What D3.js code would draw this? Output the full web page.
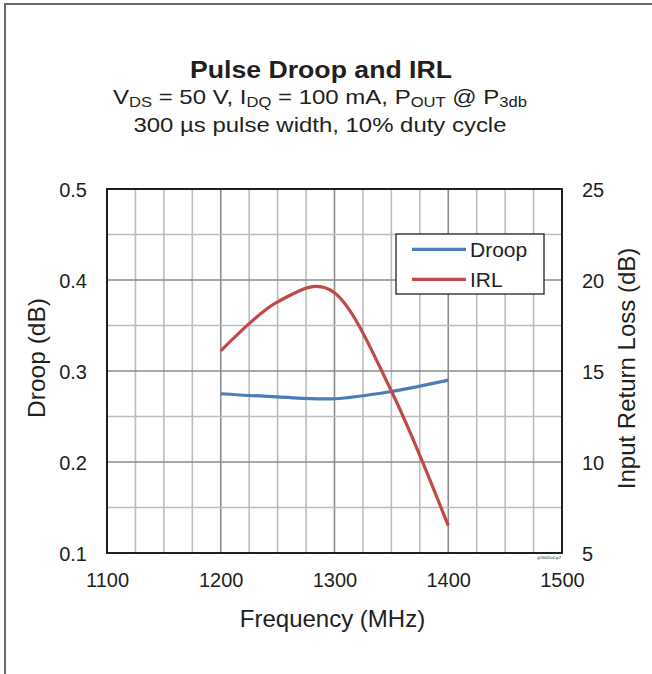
<!DOCTYPE html>
<html><head><meta charset="utf-8">
<script src="https://cdn.jsdelivr.net/npm/d3@7"></script>
<style>body{margin:0;background:#fff}svg text{font-family:"Liberation Sans",Arial,sans-serif;fill:#231f20}</style>
</head><body>
<svg id="c" width="652" height="674"></svg>
<script>
const freq = [1200, 1250, 1300, 1350, 1400];
const droop = [0.275, 0.2715, 0.2695, 0.2775, 0.290];
const irl = [16.1, 18.8, 19.3, 13.9, 6.5];
const xTicks = [1100, 1200, 1300, 1400, 1500];
const yLeftTicks = [0.1, 0.2, 0.3, 0.4, 0.5];
const yRightTicks = [5, 10, 15, 20, 25];
const seriesNames = ["Droop", "IRL"];
const colors = ["#4a7ebb", "#be4b48"];

const FF = '"Liberation Sans",Arial,sans-serif';
const svg = d3.select("#c");
const L = 107, R = 562, T = 189, B = 553;
const x = d3.scaleLinear().domain([1100, 1500]).range([L, R]);
const yL = d3.scaleLinear().domain([0.1, 0.5]).range([B, T]);
const yR = d3.scaleLinear().domain([5, 25]).range([B, T]);

// outer frame
svg.append("path").attr("d", `M5,674 L5,4 L652,4`).attr("fill", "none").attr("stroke", "#6a6a6a").attr("stroke-width", 2);

// grid
const g = svg.append("g");
d3.range(1100, 1501, 25).forEach(v => {
  const major = v % 100 === 0;
  g.append("line").attr("x1", x(v)).attr("x2", x(v)).attr("y1", T).attr("y2", B)
    .attr("stroke", major ? "#8c8c8c" : "#bdbdbd").attr("stroke-width", 1.6);
});
d3.range(0.1, 0.5001, 0.05).forEach(v => {
  const major = Math.round(v * 100) % 10 === 0;
  g.append("line").attr("x1", L).attr("x2", R).attr("y1", yL(v)).attr("y2", yL(v))
    .attr("stroke", major ? "#8c8c8c" : "#bdbdbd").attr("stroke-width", 1.6);
});
svg.append("rect").attr("x", L).attr("y", T).attr("width", R - L).attr("height", B - T)
  .attr("fill", "none").attr("stroke", "#111").attr("stroke-width", 1.8);

// axes (labels only)
const ax = svg.append("g").attr("transform", `translate(0,${B})`)
  .call(d3.axisBottom(x).tickValues(xTicks).tickFormat(d3.format("d")).tickSize(0));
const ayl = svg.append("g").attr("transform", `translate(${L},0)`)
  .call(d3.axisLeft(yL).tickValues(yLeftTicks).tickFormat(d3.format(".1f")).tickSize(0));
const ayr = svg.append("g").attr("transform", `translate(${R},0)`)
  .call(d3.axisRight(yR).tickValues(yRightTicks).tickSize(0));
[ax, ayl, ayr].forEach(a => {
  a.select(".domain").remove();
  a.selectAll("text").attr("font-size", 20).style("font-family", FF).attr("fill", "#231f20").attr("dy", null);
});
ax.selectAll("text").attr("y", 34);
ayl.selectAll("text").attr("x", -20).attr("y", 7.5);
ayr.selectAll("text").attr("x", 20).attr("y", 7.5);

// lines (uniform Catmull-Rom, like spreadsheet smoothing)
const lineL = d3.line().x((d, i) => x(freq[i])).y(d => yL(d)).curve(d3.curveCardinal.tension(0));
const lineR = d3.line().x((d, i) => x(freq[i])).y(d => yR(d)).curve(d3.curveCardinal.tension(0));
svg.append("path").attr("d", lineL(droop)).attr("fill", "none").attr("stroke", colors[0]).attr("stroke-width", 3.2);
svg.append("path").attr("d", lineR(irl)).attr("fill", "none").attr("stroke", colors[1]).attr("stroke-width", 3.2);

// legend
const lg = svg.append("g");
lg.append("rect").attr("x", 396).attr("y", 234).attr("width", 148).attr("height", 60)
  .attr("fill", "#fff").attr("stroke", "#111").attr("stroke-width", 1.2);
seriesNames.forEach((n, i) => {
  const yy = 249.3 + i * 30;
  lg.append("line").attr("x1", 412).attr("x2", 466).attr("y1", yy).attr("y2", yy)
    .attr("stroke", colors[i]).attr("stroke-width", 3.2);
  lg.append("text").attr("x", 470).attr("y", yy + 7.4).attr("font-size", 21).text(n);
});

// titles
svg.append("text").attr("x", 321).attr("y", 78).attr("text-anchor", "middle")
  .attr("font-size", 23).attr("font-weight", "bold")
  .attr("textLength", 262).attr("lengthAdjust", "spacingAndGlyphs").text("Pulse Droop and IRL");
const st = svg.append("text").attr("x", 320).attr("y", 104).attr("text-anchor", "middle").attr("font-size", 21)
  .attr("textLength", 414).attr("lengthAdjust", "spacingAndGlyphs");
const parts = [["V", 0], ["DS", 1], [" = 50 V, I", 0], ["DQ", 1], [" = 100 mA, P", 0], ["OUT", 1], [" @ ", 0], ["P", 0], ["3db", 1]];
parts.forEach((p, i) => {
  const t = st.append("tspan").text(p[0]);
  if (p[1]) t.attr("font-size", 14.5).attr("dy", 3);
  else if (i > 0 && parts[i - 1][1]) t.attr("dy", -3);
});
svg.append("text").attr("x", 320).attr("y", 132).attr("text-anchor", "middle")
  .attr("font-size", 21).attr("textLength", 373).attr("lengthAdjust", "spacingAndGlyphs")
  .text("300 µs pulse width, 10% duty cycle");

svg.append("text").attr("x", 332.5).attr("y", 626.5).attr("text-anchor", "middle")
  .attr("font-size", 24).text("Frequency (MHz)");
svg.append("text").attr("transform", "translate(45,358) rotate(-90)").attr("text-anchor", "middle")
  .attr("font-size", 24.5).text("Droop (dB)");
svg.append("text").attr("transform", "translate(635,368.5) rotate(-90)").attr("text-anchor", "middle")
  .attr("font-size", 24).text("Input Return Loss (dB)");
svg.append("text").attr("x", 549).attr("y", 559).attr("text-anchor", "middle")
  .attr("font-size", 3.5).attr("fill", "#888").text("g136005a6-gr2");
</script>
</body></html>
